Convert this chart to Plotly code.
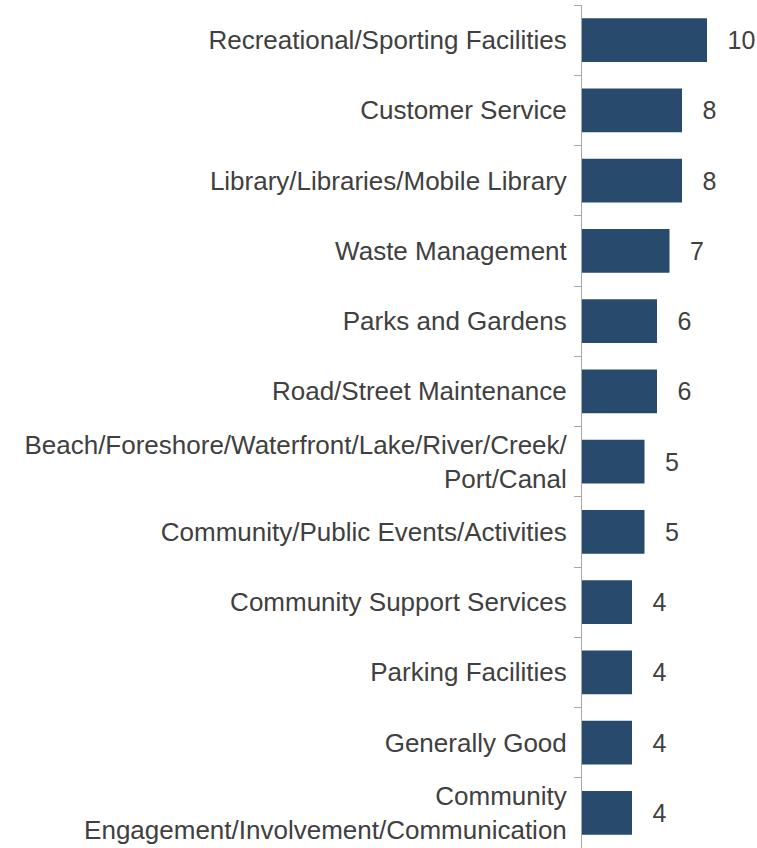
import plotly.graph_objects as go

categories = [
    "Recreational/Sporting Facilities",
    "Customer Service",
    "Library/Libraries/Mobile Library",
    "Waste Management",
    "Parks and Gardens",
    "Road/Street Maintenance",
    "Beach/Foreshore/Waterfront/Lake/River/Creek/<br>Port/Canal",
    "Community/Public Events/Activities",
    "Community Support Services",
    "Parking Facilities",
    "Generally Good",
    "Community<br>Engagement/Involvement/Communication",
]
values = [10, 8, 8, 7, 6, 6, 5, 5, 4, 4, 4, 4]

FONT = "Liberation Sans, Arial, sans-serif"

fig = go.Figure(go.Bar(
    x=values,
    y=categories,
    orientation="h",
    marker=dict(color="#284A6C", line=dict(width=0)),
    text=["\u2002\u2009" + str(v) for v in values],
    textposition="outside",
    textfont=dict(size=25, color="#404040", family=FONT),
    cliponaxis=False,
    width=0.62,
))

fig.update_layout(
    width=757, height=848,
    margin=dict(l=582, r=0, t=5, b=0),
    plot_bgcolor="white", paper_bgcolor="white",
    font=dict(family=FONT, size=26, color="#404040"),
    showlegend=False,
    xaxis=dict(range=[0, 14], visible=False),
    yaxis=dict(
        autorange="reversed",
        automargin=False,
        showline=True, linecolor="#A6A6A6", linewidth=1,
        ticks="outside", tickson="boundaries", ticklen=7, tickcolor="#A6A6A6",
        ticklabelstandoff=9,
        showgrid=False,
        tickfont=dict(size=26, color="#404040", family=FONT),
    ),
)

fig.write_html(
    "out.html",
    config={"displayModeBar": False},
    post_script="document.body.style.margin='0px';document.body.style.overflow='hidden';",
)
